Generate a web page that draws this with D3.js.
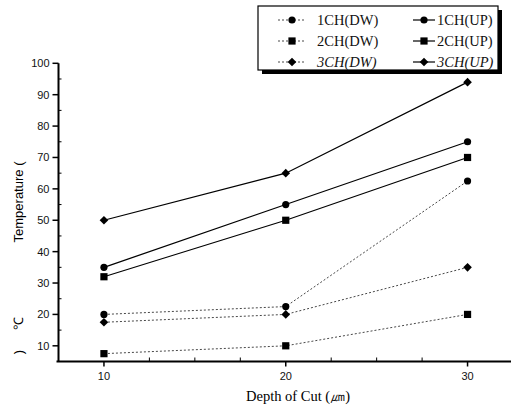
<!DOCTYPE html>
<html lang="en">
<head>
<meta charset="UTF-8">
<title>Temperature vs Depth of Cut</title>
<script src="https://cdn.jsdelivr.net/npm/d3@7"></script>
<style>
    body { margin: 0; background: #fff; }
    svg { display: block; }
    .tick-label { font-family: "Liberation Sans", Arial, sans-serif; font-size: 11px; fill: #111; }
    .legend-text { font-family: "Liberation Serif", "Times New Roman", serif; font-size: 14.5px; fill: #111; }
</style>
</head>
<body>
<svg id="chart" width="511" height="407"></svg>
<script>
    // depth of cut (um)
    const depths = [10, 20, 30];

    // temperatures
    const ch1Dw = [20, 22.5, 62.5];
    const ch1Up = [35, 55, 75];
    const ch2Dw = [7.5, 10, 20];
    const ch2Up = [32, 50, 70];
    const ch3Dw = [17.5, 20, 35];
    const ch3Up = [50, 65, 94];

    const yTicks = [10, 20, 30, 40, 50, 60, 70, 80, 90, 100];
    const xTicks = [10, 20, 30];

    const series = [
        { name: "1CH(DW)", values: ch1Dw, shape: "circle",  dashed: true },
        { name: "1CH(UP)", values: ch1Up, shape: "circle",  dashed: false },
        { name: "2CH(DW)", values: ch2Dw, shape: "square",  dashed: true },
        { name: "2CH(UP)", values: ch2Up, shape: "square",  dashed: false },
        { name: "3CH(DW)", values: ch3Dw, shape: "diamond", dashed: true },
        { name: "3CH(UP)", values: ch3Up, shape: "diamond", dashed: false }
    ];

    const svg = d3.select("#chart");

    const x = d3.scaleLinear().domain([7.5, 32.5]).range([58.5, 513]);
    const y = d3.scaleLinear().domain([5, 100]).range([361.5, 63.3]);

    // x axis: major ticks down, minor ticks up
    svg.append("line")
        .attr("x1", x(7.5) - 2).attr("x2", 511)
        .attr("y1", y(5)).attr("y2", y(5))
        .attr("stroke", "#000").attr("stroke-width", 2);

    svg.selectAll(".xmajor").data(xTicks).enter().append("line")
        .attr("x1", d => x(d)).attr("x2", d => x(d))
        .attr("y1", y(5)).attr("y2", y(5) + 5)
        .attr("stroke", "#000").attr("stroke-width", 1.5);

    svg.selectAll(".xminor").data(d3.range(12.5, 32, 2.5).filter(d => d % 10 !== 0)).enter().append("line")
        .attr("x1", d => x(d)).attr("x2", d => x(d))
        .attr("y1", y(5)).attr("y2", y(5) - 4)
        .attr("stroke", "#000").attr("stroke-width", 1);

    svg.selectAll(".xlabel").data(xTicks).enter().append("text")
        .attr("class", "tick-label")
        .attr("x", d => x(d)).attr("y", y(5) + 18)
        .attr("text-anchor", "middle")
        .text(d => d);

    // y axis: major ticks left, minor ticks right
    svg.append("line")
        .attr("x1", x(7.5)).attr("x2", x(7.5))
        .attr("y1", y(100)).attr("y2", y(5))
        .attr("stroke", "#000").attr("stroke-width", 2);

    svg.selectAll(".ymajor").data(yTicks).enter().append("line")
        .attr("x1", x(7.5) - 6).attr("x2", x(7.5))
        .attr("y1", d => y(d)).attr("y2", d => y(d))
        .attr("stroke", "#000").attr("stroke-width", 1.5);

    svg.selectAll(".yminor").data(d3.range(15, 100, 10)).enter().append("line")
        .attr("x1", x(7.5)).attr("x2", x(7.5) + 3)
        .attr("y1", d => y(d)).attr("y2", d => y(d))
        .attr("stroke", "#000").attr("stroke-width", 1);

    svg.selectAll(".ylabel").data(yTicks).enter().append("text")
        .attr("class", "tick-label")
        .attr("x", x(7.5) - 9).attr("y", d => y(d) + 4)
        .attr("text-anchor", "end")
        .text(d => d);

    // axis titles (the degree sign sits apart from the rest, as in the scan)
    svg.append("text")
        .attr("transform", "translate(23,202) rotate(-90)")
        .attr("text-anchor", "middle")
        .style("font-family", "Liberation Sans, Arial, sans-serif")
        .style("font-size", "13px")
        .text("Temperature (");
    svg.append("text")
        .attr("transform", "translate(23,323) rotate(-90)")
        .attr("text-anchor", "middle")
        .style("font-family", "Liberation Sans, Arial, sans-serif")
        .style("font-size", "13px")
        .text("℃");
    svg.append("text")
        .attr("transform", "translate(23,352) rotate(-90)")
        .attr("text-anchor", "middle")
        .style("font-family", "Liberation Sans, Arial, sans-serif")
        .style("font-size", "13px")
        .text(")");

    svg.append("text")
        .attr("x", 298).attr("y", 401)
        .attr("text-anchor", "middle")
        .style("font-family", "Liberation Serif, Times New Roman, serif")
        .style("font-size", "14.5px")
        .text("Depth of Cut (㎛)");

    function drawMarker(g, shape, cx, cy) {
        if (shape === "circle") {
            g.append("circle").attr("cx", cx).attr("cy", cy).attr("r", 3.6).attr("fill", "#000");
        } else if (shape === "square") {
            g.append("rect").attr("x", cx - 3.6).attr("y", cy - 3.6)
                .attr("width", 7.2).attr("height", 7.2).attr("fill", "#000");
        } else {
            g.append("path")
                .attr("d", `M${cx},${cy - 4.3}L${cx + 4.3},${cy}L${cx},${cy + 4.3}L${cx - 4.3},${cy}Z`)
                .attr("fill", "#000");
        }
    }

    const line = d3.line()
        .x((d, i) => x(depths[i]))
        .y(d => y(d));

    const plot = svg.append("g");
    series.forEach(s => {
        plot.append("path")
            .attr("d", line(s.values))
            .attr("fill", "none")
            .attr("stroke", s.dashed ? "#333" : "#000")
            .attr("stroke-width", s.dashed ? 0.9 : 1.2)
            .attr("stroke-dasharray", s.dashed ? "2,2" : null);
        s.values.forEach((v, i) => drawMarker(plot, s.shape, x(depths[i]), y(v)));
    });

    // legend with drop shadow
    const legend = svg.append("g");
    legend.append("rect")
        .attr("x", 262).attr("y", 10).attr("width", 240).attr("height", 64)
        .attr("fill", "#000");
    legend.append("rect")
        .attr("x", 258).attr("y", 6).attr("width", 240).attr("height", 64)
        .attr("fill", "#fff").attr("stroke", "#000").attr("stroke-width", 1.2);

    const rowY = [20, 41, 62];
    series.forEach((s, k) => {
        const row = Math.floor(k / 2);
        const col = k % 2;
        const cy = rowY[row];
        const x0 = col === 0 ? 278 : 413;
        const x1 = col === 0 ? 306 : 435;
        legend.append("line")
            .attr("x1", x0).attr("x2", x1).attr("y1", cy).attr("y2", cy)
            .attr("stroke", s.dashed ? "#333" : "#000")
            .attr("stroke-width", s.dashed ? 0.9 : 1.2)
            .attr("stroke-dasharray", s.dashed ? "2,2" : null);
        drawMarker(legend, s.shape, (x0 + x1) / 2, cy);
        legend.append("text")
            .attr("class", "legend-text")
            .attr("x", col === 0 ? 317 : 437).attr("y", cy + 5)
            .style("font-style", row === 2 ? "italic" : "normal")
            .text(s.name);
    });
</script>
</body>
</html>
